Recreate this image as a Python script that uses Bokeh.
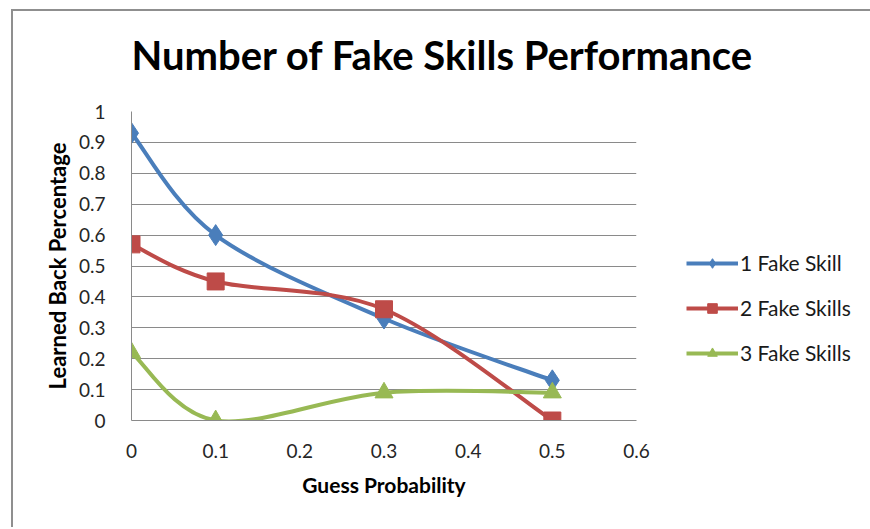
from bokeh.plotting import figure
from bokeh.models import Legend, LegendItem, Range1d, FixedTicker, NumeralTickFormatter, Title
from bokeh.embed import file_html
from bokeh.resources import INLINE

# ---- data ----
guess_prob = [0, 0.1, 0.3, 0.5]
fake1 = [0.93, 0.60, 0.33, 0.13]
fake2 = [0.57, 0.45, 0.36, 0.0]
fake3 = [0.22, 0.0, 0.09, 0.09]
series_names = ["1 Fake Skill", "2 Fake Skills", "3 Fake Skills"]
x_ticks = [0, 0.1, 0.2, 0.3, 0.4, 0.5, 0.6]
y_ticks = [0, 0.1, 0.2, 0.3, 0.4, 0.5, 0.6, 0.7, 0.8, 0.9, 1]
chart_title = "Number of Fake Skills Performance"

colors = ["#4A7EBB", "#BE4B48", "#98B954"]
markers = ["diamond", "square", "triangle"]
msizes = [21, 17, 18]
FONT = "Lato"


def smooth_segments(xs, ys):
    """Catmull-Rom style (Excel smoothed line) cubic bezier segments."""
    n = len(xs)
    d = dict(x0=[], y0=[], x1=[], y1=[], cx0=[], cy0=[], cx1=[], cy1=[])
    for i in range(n - 1):
        a = i - 1 if i > 0 else i
        b = i + 2 if i + 2 < n else i + 1
        d["x0"].append(xs[i]); d["y0"].append(ys[i])
        d["x1"].append(xs[i + 1]); d["y1"].append(ys[i + 1])
        d["cx0"].append(xs[i] + (xs[i + 1] - xs[a]) / 6)
        d["cy0"].append(ys[i] + (ys[i + 1] - ys[a]) / 6)
        d["cx1"].append(xs[i + 1] - (xs[b] - xs[i]) / 6)
        d["cy1"].append(ys[i + 1] - (ys[b] - ys[i]) / 6)
    return d


p = figure(width=857, height=516, output_backend="svg", toolbar_location=None, title=None,
           x_range=Range1d(0, 0.6), y_range=Range1d(0, 1),
           frame_width=505, frame_height=309,
           min_border_left=118, min_border_right=234, min_border_top=100, min_border_bottom=107)
p.margin = (9, 0, 0, 11)
p.styles = {"border-left": "2px solid #8f8f8f", "border-top": "2px solid #8f8f8f",
            "border-right": "none", "border-bottom": "none"}

# spacer between the title and the plot area
spacer = Title(text=" ", text_font_size="10px", standoff=18)
p.add_layout(spacer, "above")
title = Title(text=chart_title, text_font=FONT, text_font_size="40px", text_font_style="bold",
              text_color="#000000", align="left", vertical_align="top", offset=0, standoff=0)
p.add_layout(title, "above")

p.outline_line_color = None
p.background_fill_color = "white"
p.border_fill_color = "white"

p.xgrid.visible = False
p.ygrid.ticker = FixedTicker(ticks=y_ticks)
p.ygrid.grid_line_color = "#8a8a8a"
p.ygrid.grid_line_width = 1

for ax in (p.xaxis[0], p.yaxis[0]):
    ax.axis_line_color = "#8a8a8a"
    ax.major_tick_line_color = None
    ax.minor_tick_line_color = None
    ax.major_label_text_font = FONT
    ax.major_label_text_font_size = "19px"
    ax.major_label_text_color = "#262626"
    ax.axis_label_text_font = FONT
    ax.axis_label_text_font_style = "bold"
    ax.axis_label_text_color = "#000000"
    ax.formatter = NumeralTickFormatter(format="0.[0]")

p.xaxis.ticker = FixedTicker(ticks=x_ticks)
p.yaxis.ticker = FixedTicker(ticks=y_ticks)
p.xaxis.axis_label = "Guess Probability"
p.yaxis.axis_label = "Learned Back Percentage"
p.xaxis.axis_label_text_font_size = "21px"
p.yaxis.axis_label_text_font_size = "22px"
p.xaxis.major_label_standoff = 17
p.yaxis.major_label_standoff = 20
p.xaxis.axis_label_standoff = 11
p.yaxis.axis_label_standoff = 5

items = []
for ys, name, c, m, s in zip([fake1, fake2, fake3], series_names, colors, markers, msizes):
    seg = smooth_segments(guess_prob, ys)
    br = p.bezier(x0="x0", y0="y0", x1="x1", y1="y1", cx0="cx0", cy0="cy0", cx1="cx1", cy1="cy1",
                  source=seg, line_color=c, line_width=4)
    sr = p.scatter(guess_prob, ys, marker=m, size=s, fill_color=c, line_color=c)
    items.append(LegendItem(label=name, renderers=[br, sr]))

legend = Legend(items=items, location=(50, 55), glyph_width=52, glyph_height=24,
                label_height=24, spacing=20, padding=0, margin=0, label_standoff=2,
                border_line_color=None, background_fill_alpha=0,
                label_text_font=FONT, label_text_font_size="21px", label_text_color="#1a1a1a")
p.add_layout(legend, "right")

open("out.html", "w").write(file_html(p, INLINE))
